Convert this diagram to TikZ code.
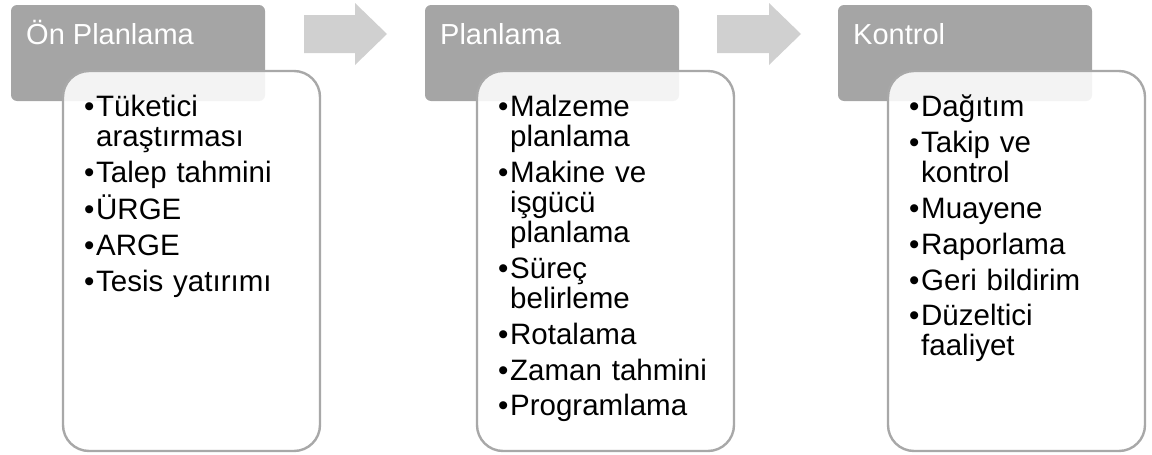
\documentclass[tikz,border=0pt]{standalone}
\usepackage{fontspec}
\setmainfont{Liberation Sans}
\definecolor{hdr}{RGB}{165,165,165}
\definecolor{arr}{RGB}{208,208,208}
\definecolor{brd}{RGB}{168,168,168}
\newlength{\bulw}\setlength{\bulw}{12pt}
\newcommand{\itm}{\makebox[\bulw][l]{\textbullet}}
\newcommand{\cnt}{\hspace*{\bulw}}
\begin{document}
\begin{tikzpicture}[x=1pt,y=-1pt,
  header/.style={fill=hdr, draw=none, rounded corners=6pt, minimum width=254pt, minimum height=96pt, anchor=north west, inner sep=0pt, outer sep=0pt},
  card/.style={fill=white, fill opacity=0.87, draw=brd, line width=2.4pt, rounded corners=26pt, minimum width=257pt, minimum height=380pt, anchor=north west, inner sep=0pt, outer sep=0pt},
  htext/.style={text=white, font=\fontsize{29}{30}\selectfont, anchor=base west, inner sep=0pt},
  list/.style={font=\fontsize{29.5}{30}\selectfont, text width=240pt, align=left, anchor=base west, inner sep=0pt},
  flow/.style={fill=arr, draw=none}]
\useasboundingbox (0,0) rectangle (1152,455);
% headers
\node[header] (h1) at (11,5) {};
\node[header] (h2) at (425,5) {};
\node[header] (h3) at (838,5) {};
\node[htext] (t1) at (26,44) {Ön Planlama};
\node[htext] (t2) at (440,44) {Planlama};
\node[htext] (t3) at (853,44) {Kontrol};
% cards
\node[card] (c1) at (63,71) {};
\node[card] (c2) at (477,71) {};
\node[card] (c3) at (888,71) {};
% lists
\node[list] (l1) at (84,116) {\itm Tüketici\\
\cnt araştırması\\[6pt]
\itm Talep tahmini\\[6pt]
\itm ÜRGE\\[6pt]
\itm ARGE\\[6pt]
\itm Tesis yatırımı};
\node[list] (l2) at (498,116) {\itm Malzeme\\
\cnt planlama\\[6pt]
\itm Makine ve\\
\cnt işgücü\\
\cnt planlama\\[6pt]
\itm Süreç\\
\cnt belirleme\\[6pt]
\itm Rotalama\\[6pt]
\itm Zaman tahmini\\[6pt]
\itm Programlama};
\node[list] (l3) at (909,116) {\itm Dağıtım\\[6pt]
\itm Takip ve\\
\cnt kontrol\\[6pt]
\itm Muayene\\[6pt]
\itm Raporlama\\[6pt]
\itm Geri bildirim\\[6pt]
\itm Düzeltici\\
\cnt faaliyet};
% arrows
\fill[flow] (304,15) -- (355,15) -- (355,3) -- (387,34) -- (355,65) -- (355,53) -- (304,53) -- cycle;
\fill[flow] (717,15) -- (769,15) -- (769,3) -- (801,34) -- (769,65) -- (769,53) -- (717,53) -- cycle;
\end{tikzpicture}
\end{document}
